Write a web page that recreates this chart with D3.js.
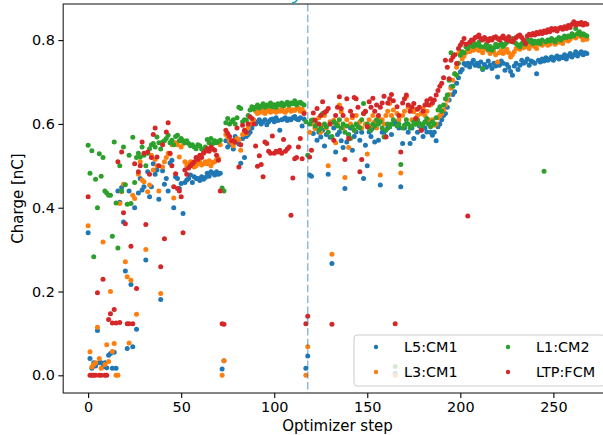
<!DOCTYPE html>
<html>
<head>
<meta charset="utf-8">
<script src="https://cdn.jsdelivr.net/npm/d3@7"></script>
<style>
  body { margin: 0; background: #fff; }
  svg { display: block; font-family: "DejaVu Sans", sans-serif; }
</style>
</head>
<body>
<div id="page"></div>
<script>

var SERIES = ['L5:CM1', 'L3:CM1', 'L1:CM2', 'LTP:FCM'];
var COLORS = ['#1f77b4', '#ff7f0e', '#2ca02c', '#d62728'];
var X_TICKS = [0, 50, 100, 150, 200, 250];
var Y_TICKS = [0, 0.2, 0.4, 0.6, 0.8];
var MARKER_STEP = 118;

// one value per optimizer step, step 0..268
var l5cm1 = [
  0.34,0.04,0.017,0.03,0.022,0.107,0.03,0.03,0.02,0.03,
  0.018,0.048,0.052,0.017,0.055,0.017,0.44,0.413,0.448,0.366,
  0.249,0.064,0.44,0.217,0.068,0.40,0.11,0.435,0.47,0.442,
  0.45,0.275,0.486,0.426,0.45,0.505,0.48,0.49,0.42,0.181,
  0.488,0.456,0.47,0.44,0.507,0.513,0.40,0.474,0.47,0.446,
  0.458,0.386,0.46,0.466,0.47,0.478,0.46,0.474,0.47,0.47,
  0.465,0.474,0.468,0.472,0.482,0.475,0.486,0.482,0.478,0.486,
  0.48,0.482,0.015,0.035,0.56,0.545,0.555,0.55,0.54,0.57,
  0.56,0.552,0.506,0.565,0.52,0.57,0.575,0.58,0.59,0.6,
  0.6,0.605,0.61,0.6,0.605,0.61,0.598,0.605,0.61,0.612,
  0.605,0.615,0.608,0.585,0.61,0.612,0.615,0.608,0.612,0.61,
  0.615,0.618,0.612,0.61,0.615,0.595,0.612,0.017,0.046,0.478,
  0.475,0.577,0.59,0.561,0.58,0.569,0.585,0.547,0.575,0.48,
  0.568,0.267,0.59,0.533,0.575,0.581,0.56,0.544,0.446,0.557,
  0.575,0.59,0.537,0.57,0.581,0.595,0.561,0.58,0.47,0.549,
  0.50,0.581,0.57,0.59,0.557,0.6,0.561,0.454,0.58,0.581,
  0.57,0.59,0.593,0.575,0.6,0.005,0.605,0.59,0.45,0.553,
  0.59,0.6,0.58,0.553,0.59,0.565,0.6,0.58,0.595,0.585,
  0.57,0.59,0.581,0.6,0.58,0.573,0.58,0.56,0.593,0.60,
  0.61,0.62,0.625,0.64,0.657,0.689,0.67,0.677,0.697,0.71,
  0.724,0.73,0.744,0.74,0.745,0.736,0.745,0.752,0.74,0.745,
  0.738,0.748,0.73,0.742,0.735,0.75,0.74,0.732,0.745,0.738,
  0.712,0.74,0.75,0.745,0.728,0.742,0.735,0.725,0.716,0.738,
  0.745,0.73,0.74,0.752,0.745,0.748,0.755,0.74,0.75,0.748,
  0.745,0.72,0.752,0.748,0.755,0.75,0.758,0.752,0.755,0.76,
  0.752,0.758,0.762,0.755,0.76,0.758,0.765,0.755,0.762,0.768,
  0.76,0.765,0.772,0.762,0.768,0.772,0.765,0.77,0.768
];

var l3cm1 = [
  0.357,0.056,0.02,0.026,0.03,0.115,0.04,0.017,0.318,0.026,
  0.073,0.033,0.2,0.057,0.076,0.0,0.0,0.41,0.438,0.456,
  0.271,0.235,0.077,0.227,0.43,0.422,0.146,0.48,0.51,0.466,
  0.462,0.30,0.438,0.454,0.525,0.49,0.515,0.50,0.44,0.195,
  0.497,0.51,0.52,0.53,0.528,0.55,0.423,0.555,0.55,0.521,
  0.545,0.553,0.51,0.50,0.505,0.51,0.505,0.497,0.5,0.505,
  0.51,0.502,0.505,0.51,0.505,0.512,0.5,0.508,0.51,0.515,
  0.518,0.55,0.0,0.035,0.575,0.569,0.56,0.555,0.548,0.56,
  0.565,0.562,0.537,0.575,0.58,0.577,0.59,0.6,0.601,0.61,
  0.63,0.625,0.63,0.628,0.632,0.625,0.63,0.634,0.628,0.63,
  0.633,0.628,0.632,0.63,0.635,0.63,0.628,0.633,0.636,0.63,
  0.634,0.632,0.636,0.638,0.63,0.635,0.628,0.0,0.068,0.58,
  0.6,0.61,0.589,0.6,0.615,0.58,0.597,0.62,0.59,0.50,
  0.605,0.289,0.609,0.555,0.6,0.645,0.629,0.59,0.472,0.61,
  0.544,0.6,0.615,0.585,0.62,0.597,0.605,0.59,0.625,0.6,
  0.528,0.61,0.595,0.62,0.605,0.59,0.613,0.478,0.61,0.6,
  0.62,0.63,0.649,0.62,0.633,0.0,0.625,0.61,0.483,0.62,
  0.63,0.665,0.64,0.641,0.61,0.629,0.635,0.62,0.6,0.625,
  0.637,0.62,0.63,0.61,0.645,0.61,0.597,0.6,0.615,0.62,
  0.625,0.633,0.645,0.657,0.67,0.685,0.704,0.72,0.735,0.768,
  0.772,0.755,0.762,0.77,0.775,0.772,0.78,0.776,0.785,0.778,
  0.775,0.782,0.77,0.778,0.785,0.775,0.768,0.778,0.772,0.765,
  0.748,0.77,0.775,0.768,0.772,0.778,0.77,0.76,0.765,0.772,
  0.78,0.785,0.778,0.788,0.782,0.79,0.785,0.78,0.788,0.792,
  0.785,0.78,0.79,0.795,0.788,0.792,0.795,0.788,0.79,0.798,
  0.795,0.79,0.8,0.795,0.798,0.792,0.8,0.805,0.798,0.802,
  0.808,0.812,0.805,0.81,0.815,0.808,0.8,0.805,0.802
];

var l1cm2 = [
  0.549,0.482,0.536,0.283,0.468,0.40,0.529,0.475,0.52,0.44,
  0.435,0.43,0.43,0.332,0.557,0.411,0.304,0.50,0.44,0.545,
  0.455,0.408,0.525,0.41,0.568,0.46,0.52,0.53,0.521,0.545,
  0.525,0.5,0.53,0.541,0.55,0.553,0.545,0.569,0.555,0.54,
  0.557,0.56,0.565,0.573,0.555,0.561,0.55,0.57,0.573,0.56,
  0.565,0.56,0.555,0.56,0.553,0.548,0.55,0.545,0.541,0.55,
  0.548,0.54,0.537,0.545,0.563,0.555,0.565,0.553,0.56,0.555,
  0.558,0.561,0.447,0.44,0.603,0.613,0.6,0.605,0.61,0.6,
  0.615,0.64,0.637,0.605,0.61,0.609,0.62,0.633,0.641,0.635,
  0.64,0.645,0.638,0.642,0.648,0.64,0.645,0.643,0.65,0.641,
  0.646,0.64,0.648,0.645,0.65,0.643,0.647,0.652,0.645,0.65,
  0.648,0.655,0.646,0.65,0.652,0.648,0.645,0.605,0.525,0.6,
  0.609,0.609,0.595,0.6,0.585,0.59,0.625,0.6,0.593,0.58,
  0.6,0.57,0.605,0.601,0.595,0.61,0.59,0.6,0.58,0.595,
  0.573,0.565,0.593,0.585,0.6,0.593,0.59,0.61,0.649,0.629,
  0.6,0.59,0.585,0.6,0.595,0.61,0.6,0.605,0.59,0.569,
  0.585,0.6,0.593,0.6,0.61,0.021,0.595,0.6,0.503,0.59,
  0.597,0.61,0.6,0.59,0.595,0.605,0.6,0.61,0.601,0.59,
  0.6,0.605,0.613,0.6,0.593,0.605,0.6,0.615,0.633,0.641,
  0.63,0.645,0.66,0.669,0.704,0.77,0.69,0.72,0.716,0.745,
  0.764,0.772,0.77,0.784,0.78,0.788,0.792,0.785,0.79,0.788,
  0.795,0.785,0.732,0.784,0.79,0.778,0.785,0.776,0.782,0.79,
  0.784,0.788,0.792,0.785,0.79,0.795,0.8,0.798,0.804,0.795,
  0.792,0.788,0.784,0.792,0.796,0.79,0.8,0.796,0.8,0.792,
  0.797,0.794,0.798,0.792,0.8,0.487,0.796,0.8,0.798,0.804,
  0.8,0.796,0.802,0.806,0.8,0.805,0.81,0.806,0.81,0.808,
  0.815,0.81,0.828,0.816,0.82,0.812,0.815,0.812,0.81
];

var ltpfcm = [
  0.426,0.0,0.0,0.0,0.0,0.197,0.0,0.0,0.229,0.0,
  0.0,0.133,0.147,0.125,0.157,0.125,0.51,0.126,0.533,0.388,
  0.362,0.123,0.123,0.308,0.123,0.505,0.207,0.486,0.50,0.557,
  0.53,0.36,0.533,0.48,0.52,0.575,0.59,0.521,0.5,0.259,
  0.55,0.326,0.581,0.603,0.53,0.5,0.45,0.481,0.446,0.44,
  0.426,0.34,0.49,0.48,0.495,0.5,0.505,0.51,0.52,0.515,
  0.525,0.52,0.53,0.535,0.541,0.535,0.545,0.54,0.537,0.525,
  0.513,0.44,0.123,0.122,0.585,0.577,0.57,0.56,0.56,0.556,
  0.59,0.497,0.55,0.597,0.585,0.58,0.6,0.617,0.613,0.6,
  0.547,0.499,0.524,0.503,0.474,0.557,0.553,0.535,0.53,0.571,
  0.53,0.535,0.533,0.537,0.53,0.563,0.535,0.54,0.545,0.382,
  0.471,0.517,0.52,0.545,0.565,0.517,0.625,0.123,0.141,0.521,
  0.537,0.626,0.609,0.637,0.6,0.62,0.653,0.627,0.63,0.637,
  0.6,0.122,0.561,0.62,0.64,0.665,0.637,0.62,0.515,0.66,
  0.565,0.63,0.62,0.663,0.66,0.64,0.486,0.515,0.625,0.63,
  0.593,0.653,0.64,0.661,0.63,0.645,0.62,0.64,0.65,0.666,
  0.569,0.65,0.66,0.67,0.655,0.123,0.641,0.62,0.533,0.65,
  0.66,0.669,0.645,0.63,0.64,0.649,0.613,0.635,0.64,0.585,
  0.63,0.645,0.655,0.645,0.66,0.65,0.657,0.669,0.68,0.69,
  0.697,0.71,0.752,0.735,0.708,0.752,0.76,0.765,0.744,0.78,
  0.788,0.795,0.804,0.79,0.38,0.795,0.8,0.8,0.806,0.808,
  0.812,0.804,0.8,0.806,0.802,0.798,0.804,0.8,0.806,0.808,
  0.804,0.8,0.805,0.81,0.804,0.8,0.808,0.798,0.796,0.802,
  0.806,0.81,0.812,0.806,0.8,0.792,0.81,0.814,0.812,0.816,
  0.812,0.818,0.815,0.82,0.816,0.822,0.818,0.825,0.82,0.828,
  0.824,0.828,0.822,0.828,0.83,0.826,0.832,0.828,0.835,0.83,
  0.838,0.844,0.836,0.84,0.838,0.842,0.836,0.84,0.838
];

var width = 603, height = 435,
    plotLeft = 63.2, plotRight = 611.8, plotTop = 4, plotBottom = 393,
    fontSize = 14.4,
    labelSize = 15;

var svg = d3.select('#page').append('svg')
    .attr('width', width)
    .attr('height', height);

var allSeries = [l5cm1, l3cm1, l1cm2, ltpfcm];

// matplotlib style 5% margins around the data
var nSteps = d3.max(allSeries, function(s) { return s.length; }) - 1,
    yMax = d3.max(allSeries, function(s) { return d3.max(s); }),
    xPad = nSteps * 0.05,
    yPad = yMax * 0.05;

var x = d3.scaleLinear().domain([-xPad, nSteps + xPad]).range([plotLeft, plotRight]),
    y = d3.scaleLinear().domain([-yPad, yMax + yPad]).range([plotBottom, plotTop]);

svg.append('clipPath').attr('id', 'plot')
  .append('rect')
    .attr('x', plotLeft).attr('y', plotTop)
    .attr('width', plotRight - plotLeft).attr('height', plotBottom - plotTop);

var points = svg.append('g').attr('clip-path', 'url(#plot)');

allSeries.forEach(function(values, i) {
  points.append('g')
    .selectAll('circle')
      .data(values)
    .enter().append('circle')
      .attr('cx', function(d, step) { return x(step); })
      .attr('cy', function(d) { return y(d); })
      .attr('r', 2.5)
      .style('fill', COLORS[i]);
});

// optimizer switch marker
svg.append('line')
    .attr('x1', x(MARKER_STEP)).attr('x2', x(MARKER_STEP))
    .attr('y1', plotTop).attr('y2', plotBottom)
    .style('stroke', '#1f77b4')
    .style('stroke-opacity', 0.5)
    .style('stroke-width', 1.5)
    .style('stroke-dasharray', '7.5,3.3');

// axes frame
svg.append('rect')
    .attr('x', plotLeft).attr('y', plotTop)
    .attr('width', plotRight - plotLeft).attr('height', plotBottom - plotTop)
    .style('fill', 'none')
    .style('stroke', '#222')
    .style('stroke-width', 1.1);

var xAxis = svg.append('g')
    .attr('transform', 'translate(0,' + plotBottom + ')')
    .call(d3.axisBottom(x).tickValues(X_TICKS).tickFormat(d3.format('d'))
      .tickSize(4.9).tickPadding(3.5));

var yAxis = svg.append('g')
    .attr('transform', 'translate(' + plotLeft + ',0)')
    .call(d3.axisLeft(y).tickValues(Y_TICKS).tickFormat(d3.format('.1f'))
      .tickSize(4.9).tickPadding(3.5));

[xAxis, yAxis].forEach(function(g) {
  g.select('.domain').remove();
  g.attr('font-size', fontSize).attr('font-family', '"DejaVu Sans", sans-serif');
  g.selectAll('.tick line').style('stroke-width', 1.1);
});

svg.append('text')
    .attr('x', (plotLeft + plotRight) / 2)
    .attr('y', 431)
    .attr('text-anchor', 'middle')
    .style('font-size', labelSize + 'px')
    .text('Optimizer step');

svg.append('text')
    .attr('transform', 'translate(23,' + ((plotTop + plotBottom) / 2) + ') rotate(-90)')
    .attr('text-anchor', 'middle')
    .style('font-size', labelSize + 'px')
    .text('Charge [nC]');

// small cut-off annotation stroke at the top edge
svg.append('path')
    .attr('d', 'M297,0 Q296,2.5 292,3')
    .style('fill', 'none')
    .style('stroke', '#17a2b8')
    .style('stroke-width', 1.5);

// legend, two columns
var legend = svg.append('g');

legend.append('rect')
    .attr('x', 354).attr('y', 335)
    .attr('width', 251).attr('height', 51)
    .attr('rx', 3)
    .style('fill', '#fff')
    .style('fill-opacity', 0.8)
    .style('stroke', '#cccccc')
    .style('stroke-width', 1);

var entries = legend.selectAll('g.entry')
    .data(SERIES)
  .enter().append('g')
    .attr('class', 'entry')
    .attr('transform', function(d, i) {
      var col = Math.floor(i / 2), row = i % 2;
      return 'translate(' + (376 + col * 132) + ',' + (347 + row * 25) + ')';
    });

entries.append('circle')
    .attr('r', 2.2)
    .style('fill', function(d) { return COLORS[SERIES.indexOf(d)]; });

entries.append('text')
    .attr('x', 28)
    .attr('dy', '0.36em')
    .style('font-size', fontSize + 'px')
    .text(function(d) { return d; });

</script>
</body>
</html>
